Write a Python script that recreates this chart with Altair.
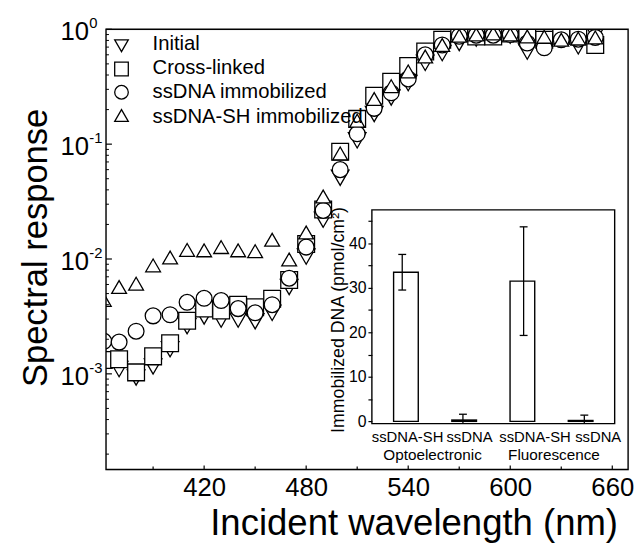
import altair as alt
import pandas as pd

FONT = "Liberation Sans"

# ---------------- main spectra ----------------
wavelengths = [361, 370, 380, 390, 400, 410, 420, 430, 440, 450, 460, 470, 480, 490,
               500, 510, 520, 530, 540, 550, 560, 570, 580, 590, 600, 610, 620, 630, 640, 650]
initial = [1.25e-3, 1.1e-3, 0.93e-3, 1.16e-3, 1.64e-3, 2.6e-3, 3.16e-3, 2.97e-3, 2.97e-3, 2.87e-3,
           3.4e-3, 5.7e-3, 1.05e-2, 2.2e-2, 0.051, 0.108, 0.183, 0.255, 0.34, 0.51,
           0.62, 0.76, 0.83, 0.88, 0.88, 0.64, 0.8, 0.86, 0.71, 0.9]
cross_linked = [1.32e-3, 1.34e-3, 1.03e-3, 1.42e-3, 1.85e-3, 2.9e-3, 3.7e-3, 3.56e-3, 4.0e-3, 3.8e-3,
                4.5e-3, 6.55e-3, 1.35e-2, 2.7e-2, 0.086, 0.166, 0.264, 0.35, 0.48, 0.64,
                0.81, 0.93, 0.865, 0.865, 0.92, 0.865, 0.81, 0.88, 0.88, 0.73]
ssdna = [1.92e-3, 1.89e-3, 2.35e-3, 3.2e-3, 3.27e-3, 4.2e-3, 4.55e-3, 4.35e-3, 3.7e-3, 3.4e-3,
         4.0e-3, 6.8e-3, 1.27e-2, 2.65e-2, 0.06, 0.123, 0.205, 0.28, 0.37, 0.6,
         0.73, 0.87, 0.89, 0.89, 0.9, 0.76, 0.69, 0.81, 0.82, 0.85]
ssdna_sh = [4.4e-3, 5.7e-3, 6.1e-3, 8.8e-3, 1.03e-2, 1.2e-2, 1.19e-2, 1.27e-2, 1.19e-2, 1.17e-2,
            1.47e-2, 9.9e-3, 1.7e-2, 3.5e-2, 0.083, 0.16, 0.247, 0.32, 0.43, 0.58,
            0.73, 0.88, 0.9, 0.92, 0.9, 0.865, 0.86, 0.81, 0.83, 0.85]

series_names = ["Initial", "Cross-linked", "ssDNA immobilized", "ssDNA-SH immobilized"]
series_shapes = ["triangle-down", "square", "circle", "triangle-up"]
series_sizes = [320, 225, 280, 361]

x_label_values = [420, 480, 540, 600, 660]
x_minor_ticks = [390, 450, 510, 570, 630]
y_decades = [1.0, 0.1, 0.01, 0.001]
y_exponents = ["0", "-1", "-2", "-3"]

# ---------------- inset ----------------
inset_pos = [0.5, 1.5, 2.5, 3.5]
inset_values = [33.5, 0.3, 31.5, 0.2]
inset_err = [4.0, 1.3, 12.2, 1.2]
inset_label_pos = [0.58, 1.6, 2.68, 3.72]
group_names = ["Optoelectronic", "Fluorescence"]
group_pos = [1.0, 3.0]
inset_y_ticks = [0, 5, 10, 15, 20, 25, 30, 35, 40, 45]

W, H = 529, 446
X_DOM = [362.3, 669.3]
Y_DOM = [1.47e-4, 1.0]

rows = []
for name, vals in zip(series_names, [initial, cross_linked, ssdna, ssdna_sh]):
    for w, v in zip(wavelengths, vals):
        rows.append({"wl": w, "v": v, "series": name, "sk": name})
df = pd.DataFrame(rows)

y_minor = []
for dec in [1e-4, 1e-3, 1e-2, 1e-1]:
    for m in range(2, 10):
        val = m * dec
        if val >= Y_DOM[0]:
            y_minor.append(val)


def xs():
    return alt.Scale(domain=X_DOM, nice=False, zero=False)


def ys():
    return alt.Scale(type="log", domain=Y_DOM, nice=False)


def shape_scale():
    return alt.Scale(domain=series_names, range=series_shapes)


x_axis = alt.Axis(orient="bottom", values=x_label_values, format="d", tickSize=0, domain=False, grid=False,
                  labelFontSize=26, labelFont=FONT, labelColor="black", labelPadding=5,
                  title="Incident wavelength (nm)", titleFontSize=37, titleFont=FONT,
                  titleFontWeight="normal", titleColor="black", titleX=311.7, titleY=66,
                  titleBaseline="alphabetic", titleAlign="center")
y_axis = alt.Axis(orient="left", labels=False, ticks=False, domain=False, grid=False,
                  title="Spectral response", titleFontSize=35, titleFont=FONT,
                  titleFontWeight="normal", titleColor="black", titleX=-71.3, titleY=221,
                  titleAngle=270, titleBaseline="middle", titleAlign="center")

legend = alt.Legend(
    title=None, orient="none", legendX=8.7, legendY=4.7,
    labelFontSize=20.5, labelFont=FONT, labelColor="black", labelLimit=400,
    symbolSize=180, symbolFillColor="transparent", symbolStrokeColor="transparent", symbolStrokeWidth=0,
    symbolOpacity=0, labelOffset=18, rowPadding=3.5, padding=0,
)

points = alt.Chart(df).mark_point(filled=False, color="black", fill="white", stroke="black",
                                  strokeWidth=1.3, opacity=1, fillOpacity=1, clip=True).encode(
    x=alt.X("wl:Q", scale=xs(), axis=x_axis),
    y=alt.Y("v:Q", scale=ys(), axis=y_axis),
    shape=alt.Shape("series:N", scale=shape_scale(), legend=legend),
    size=alt.Size("sk:N", scale=alt.Scale(domain=series_names, range=series_sizes), legend=None),
)

# legend symbols (drawn as marks through a point scale, next to the legend labels)
legend_syms = alt.Chart(pd.DataFrame({"series": series_names})).mark_point(
    filled=False, color="black", fill="white", stroke="black", strokeWidth=1.3,
    opacity=1, fillOpacity=1, size=190).encode(
    x=alt.value(15.7),
    y=alt.Y("series:N", scale=alt.Scale(type="point", domain=series_names, range=[16.7, 87.3], padding=0),
            axis=None),
    shape=alt.Shape("series:N", scale=shape_scale(), legend=None),
)

frame_main = alt.Chart(pd.DataFrame({"wl": [X_DOM[0]], "wl2": [X_DOM[1]], "v": [Y_DOM[0]], "v2": [Y_DOM[1]]})).mark_rect(
    fill="transparent", stroke="black", strokeWidth=1.4).encode(
    x=alt.X("wl:Q", scale=xs(), axis=None), x2="wl2:Q",
    y=alt.Y("v:Q", scale=ys(), axis=None), y2="v2:Q")

xt_major = alt.Chart(pd.DataFrame({"wl": x_label_values})).mark_rule(color="black", strokeWidth=1.2).encode(
    x=alt.X("wl:Q", scale=xs(), axis=None), y=alt.value(H), y2=alt.value(H - 4))
xt_minor = alt.Chart(pd.DataFrame({"wl": x_minor_ticks})).mark_rule(color="black", strokeWidth=1.2).encode(
    x=alt.X("wl:Q", scale=xs(), axis=None), y=alt.value(H), y2=alt.value(H - 3))
yt_major = alt.Chart(pd.DataFrame({"v": y_decades})).mark_rule(color="black", strokeWidth=1.2).encode(
    y=alt.Y("v:Q", scale=ys(), axis=None), x=alt.value(0), x2=alt.value(6))
yt_minor = alt.Chart(pd.DataFrame({"v": y_minor})).mark_rule(color="black", strokeWidth=1.0).encode(
    y=alt.Y("v:Q", scale=ys(), axis=None), x=alt.value(0), x2=alt.value(3))

lab_df = pd.DataFrame({"v": y_decades, "base": ["10"] * 4, "exp": y_exponents})
ylab = alt.Chart(lab_df).mark_text(align="left", baseline="middle", fontSize=26, font=FONT,
                                   color="black", dy=3).encode(
    y=alt.Y("v:Q", scale=ys(), axis=None), x=alt.value(-46), text="base:N")
yexp = alt.Chart(lab_df).mark_text(align="left", baseline="middle", fontSize=15, font=FONT,
                                   color="black", dy=-6).encode(
    y=alt.Y("v:Q", scale=ys(), axis=None), x=alt.value(-17), text="exp:N")

# ---------------- inset layers ----------------
def ixs():
    return alt.Scale(domain=[0, 4], range=[269.4, 515.4], nice=False, zero=False)


def iys():
    return alt.Scale(domain=[-0.5, 47.5], range=[399.5, 183], nice=False, zero=False)


ix_axis = alt.Axis(orient="bottom", offset=-46.5, values=inset_label_pos,
                   labelExpr="datum.value < 1 ? 'ssDNA-SH' : datum.value < 2 ? 'ssDNA' : datum.value < 3 ? 'ssDNA-SH' : 'ssDNA'",
                   tickSize=0, domain=False, grid=False, labelOverlap=False,
                   labelFontSize=15, labelFont=FONT, labelColor="black", labelPadding=6, title=None)
iy_axis = alt.Axis(orient="left", offset=-269.4, values=inset_y_ticks,
                   labelExpr="datum.value % 10 === 0 ? datum.label : ''",
                   tickSize=4, tickColor="black", tickWidth=1.2, domain=False, grid=False,
                   labelFontSize=16, labelFont=FONT, labelColor="black", labelPadding=2,
                   title="Immobilized DNA (pmol/cm²)", titleFontSize=18, titleFont=FONT,
                   titleFontWeight="normal", titleColor="black", titleX=-33.7, titleY=294,
                   titleAngle=270, titleBaseline="middle", titleAlign="center")

frame_df = pd.DataFrame({"ix": [0], "ix2": [4], "iy": [-0.5], "iy2": [47.5]})
frame = alt.Chart(frame_df).mark_rect(fill="transparent", stroke="black", strokeWidth=1.4).encode(
    x=alt.X("ix:Q", scale=ixs(), axis=ix_axis), x2="ix2:Q",
    y=alt.Y("iy:Q", scale=iys(), axis=iy_axis), y2="iy2:Q")

bar_df = pd.DataFrame({"ix": inset_pos, "iy": inset_values, "err": inset_err, "base": [0] * 4})
bar_df["hi"] = bar_df["iy"] + bar_df["err"]
bar_df["lo"] = (bar_df["iy"] - bar_df["err"]).clip(lower=-0.5)

bars = alt.Chart(bar_df).mark_bar(size=25, fill="white", stroke="black", strokeWidth=1.4).encode(
    x=alt.X("ix:Q", scale=ixs(), axis=None),
    y=alt.Y("iy:Q", scale=iys(), axis=None), y2="base:Q")
errs = alt.Chart(bar_df).mark_rule(color="black", strokeWidth=1.3).encode(
    x=alt.X("ix:Q", scale=ixs(), axis=None),
    y=alt.Y("lo:Q", scale=iys(), axis=None), y2="hi:Q")
cap_hi = alt.Chart(bar_df).mark_tick(orient="horizontal", size=8, thickness=1.3, color="black", opacity=1).encode(
    x=alt.X("ix:Q", scale=ixs(), axis=None),
    y=alt.Y("hi:Q", scale=iys(), axis=None))
cap_lo = alt.Chart(bar_df).transform_filter("datum.lo > 0").mark_tick(
    orient="horizontal", size=8, thickness=1.3, color="black", opacity=1).encode(
    x=alt.X("ix:Q", scale=ixs(), axis=None),
    y=alt.Y("lo:Q", scale=iys(), axis=None))

grp_df = pd.DataFrame({"ix": group_pos, "name": group_names})
grp = alt.Chart(grp_df).mark_text(baseline="middle", align="center", fontSize=15.5, font=FONT,
                                  color="black").encode(
    x=alt.X("ix:Q", scale=ixs(), axis=None), y=alt.value(431.5), text="name:N")

chart = alt.layer(points, legend_syms, frame_main, xt_major, xt_minor, yt_major, yt_minor, ylab, yexp,
                  frame, bars, errs, cap_hi, cap_lo, grp).resolve_scale(
    x="independent", y="independent", shape="independent").resolve_legend(shape="independent").properties(
    width=W, height=H,
    autosize=alt.AutoSizeParams(type="none"),
    padding={"left": 99.3, "top": 18, "right": 7, "bottom": 78},
).configure_view(strokeWidth=0).configure(background="white")

chart.save("out.html", embed_options={"renderer": "svg", "actions": False})
